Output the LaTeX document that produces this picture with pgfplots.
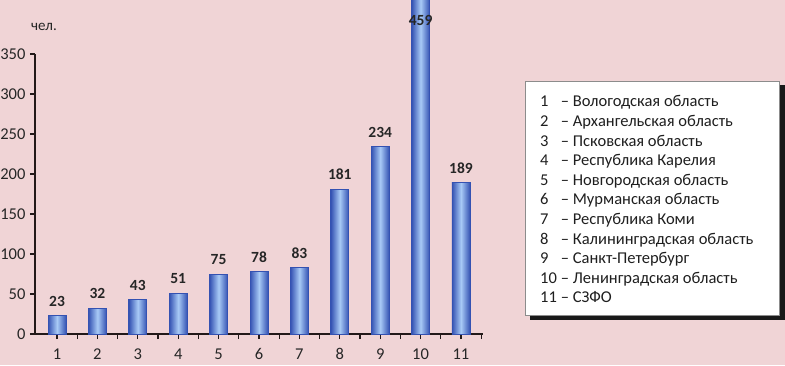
\documentclass[border=0pt]{standalone}
\usepackage{pgfplots}
\pgfplotsset{compat=1.18}
\usepackage{fontspec}
\setmainfont{Carlito}
\definecolor{bgpink}{RGB}{240,212,214}
\definecolor{bardark}{RGB}{52,82,178}
\definecolor{barlight}{RGB}{168,202,246}
\definecolor{axcol}{RGB}{35,25,25}
\pgfplotsset{
  mybar/.style={ybar, bar shift=0pt, bar width=18pt, draw=bardark, line width=0.7pt,
    left color=bardark, right color=bardark, middle color=barlight},
  mylab/.style={nodes near coords,
    nodes near coords style={font=\bfseries\fontsize{15.5}{16}\selectfont, color=black!85, anchor=south, inner sep=0pt, yshift=9pt}},
}
\begin{document}
\begin{tikzpicture}[x=1pt,y=1pt]
\useasboundingbox (0,0) rectangle (785,365);
\fill[bgpink] (0,0) rectangle (785,365);
\clip (0,0) rectangle (785,365);
\begin{axis}[
  at={(35pt,31pt)}, anchor=south west,
  scale only axis, width=448pt, height=280pt,
  xmin=0.455, xmax=11.545, ymin=0, ymax=350,
  axis x line=bottom, axis y line=left,
  axis line style={-, line width=1.4pt, color=axcol},
  xtick={1,...,11},
  extra x ticks={1.5,2.5,...,11.5}, extra x tick labels={},
  ytick={0,50,...,350},
  tick align=outside, major tick length=5pt,
  every tick/.style={line width=1.1pt, color=axcol},
  ticklabel style={font=\fontsize{16.5}{17}\selectfont, color=black!85},
  xticklabel style={yshift=-6pt},
  yticklabel style={xshift=-1pt},
  /pgf/number format/assume math mode=true,
  clip=false,
]
\addplot[mybar, mylab] coordinates {(1,23)};
\addplot[mybar, mylab] coordinates {(2,32)};
\addplot[mybar, mylab] coordinates {(3,43)};
\addplot[mybar, mylab] coordinates {(4,51)};
\addplot[mybar, mylab] coordinates {(5,75)};
\addplot[mybar, mylab] coordinates {(6,78)};
\addplot[mybar, mylab] coordinates {(7,83)};
\addplot[mybar, mylab] coordinates {(8,181)};
\addplot[mybar, mylab] coordinates {(9,234)};
\addplot[mybar] coordinates {(10,459)};
\addplot[mybar, mylab] coordinates {(11,189)};
\addplot[draw=none, mark=none, nodes near coords, point meta=explicit symbolic,
  nodes near coords style={font=\bfseries\fontsize{15.5}{16}\selectfont, color=black!85, anchor=center, inner sep=0pt}]
  coordinates {(10,392) [459]};
\end{axis}
\node[font=\fontsize{15}{15}\selectfont, color=black!85] at (44,338) {чел.};
\fill[black!90] (530,45) rectangle (785,280);
\draw[fill=white, draw=black!45, line width=0.8pt] (525,50) rectangle (779,284);
\node[anchor=north west, inner sep=0pt, font=\fontsize{16.5}{19.6}\selectfont, color=black!88] at (540,272) {%
\begin{tabular}{@{}l@{\hspace{4pt}}l@{}}
1 & – Вологодская область\\
2 & – Архангельская область\\
3 & – Псковская область\\
4 & – Республика Карелия\\
5 & – Новгородская область\\
6 & – Мурманская область\\
7 & – Республика Коми\\
8 & – Калининградская область\\
9 & – Санкт-Петербург\\
10 & – Ленинградская область\\
11 & – СЗФО
\end{tabular}};
\end{tikzpicture}
\end{document}
